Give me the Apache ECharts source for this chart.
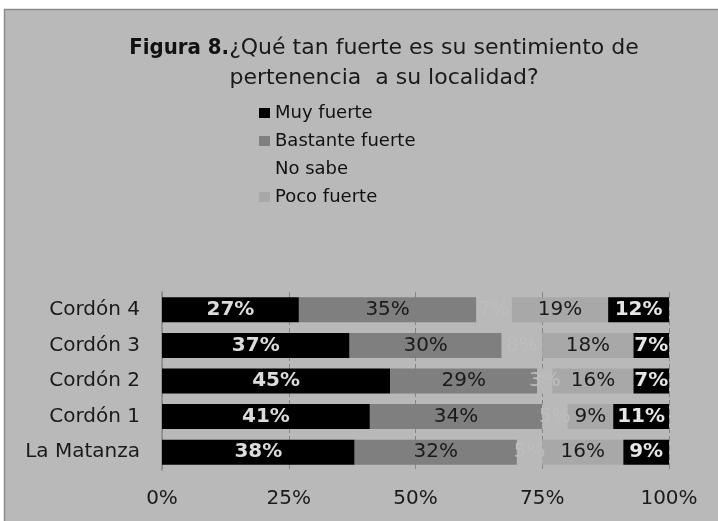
<!DOCTYPE html>
<html>
<head>
<meta charset="utf-8">
<script src="https://cdn.jsdelivr.net/npm/echarts@6/dist/echarts.min.js"></script>
<style>
  html, body { margin: 0; padding: 0; background: #ffffff; }
  #chart { width: 718px; height: 521px; }
</style>
</head>
<body>
<div id="chart"></div>
<script>
// Survey results: strength of sense of belonging, by cordón
const categories = ['Cordón 4', 'Cordón 3', 'Cordón 2', 'Cordón 1', 'La Matanza'];
const muyFuerte      = [27, 37, 45, 41, 38];
const bastanteFuerte = [35, 30, 29, 34, 32];
const noSabe         = [7, 8, 3, 5, 5];
const pocoFuerte     = [19, 18, 16, 9, 16];
const nadaFuerte     = [12, 7, 7, 11, 9];
const tickValues     = [0, 25, 50, 75, 100];

const FONT = 'DejaVu Sans';
const BG = '#b9b9b9';

const chart = echarts.init(document.getElementById('chart'));

function barSeries(name, data, color, labelColor, bold) {
  return {
    name: name,
    type: 'bar',
    stack: 'total',
    data: data,
    barWidth: 25,
    itemStyle: { color: color },
    label: {
      show: true,
      position: 'inside',
      formatter: '{c}%',
      color: labelColor,
      fontFamily: FONT,
      fontSize: 20,
      fontWeight: bold ? 'bold' : 'normal'
    },
    emphasis: { disabled: true }
  };
}

chart.setOption({
  animation: false,
  backgroundColor: '#ffffff',
  graphic: [{
    type: 'rect',
    z: -100,
    shape: { x: 4.5, y: 9.5, width: 720, height: 520 },
    style: { fill: BG, stroke: '#8c8c8c', lineWidth: 1.5 }
  }],
  title: {
    left: 379,
    top: 28,
    textAlign: 'center',
    text: '{b|Figura 8.}{n|¿Qué tan fuerte es su sentimiento de}\n{n|pertenencia  a su localidad?}',
    textStyle: {
      fontWeight: 'normal',
      rich: {
        b: { fontFamily: 'DejaVu Sans Condensed', fontWeight: 'bold', fontSize: 22, color: '#111', lineHeight: 30 },
        n: { fontFamily: FONT, fontWeight: 'normal', fontSize: 22, color: '#1a1a1a', lineHeight: 30 }
      }
    }
  },
  legend: {
    orient: 'vertical',
    left: 254,
    top: 99,
    itemWidth: 11,
    itemHeight: 10,
    itemGap: 10,
    icon: 'rect',
    selectedMode: false,
    data: ['Muy fuerte', 'Bastante fuerte', 'No sabe', 'Poco fuerte'],
    textStyle: { fontFamily: FONT, fontSize: 18, color: '#111', lineHeight: 18 }
  },
  grid: { left: 162, right: 49, top: 292, bottom: 51, containLabel: false },
  xAxis: {
    type: 'value',
    min: 0,
    max: 100,
    interval: 25,
    axisLine: { show: false },
    axisTick: { show: false },
    axisLabel: {
      formatter: function (v) { return tickValues.indexOf(v) >= 0 ? v + '%' : ''; },
      fontFamily: FONT,
      fontSize: 20,
      color: '#1a1a1a',
      margin: 19
    },
    splitLine: { show: true, lineStyle: { color: '#858585', width: 1, type: [6, 3] } }
  },
  yAxis: {
    type: 'category',
    data: categories,
    inverse: true,
    axisLine: { show: true, lineStyle: { color: '#8a8a8a', width: 1.5 } },
    axisTick: { show: false },
    axisLabel: { fontFamily: FONT, fontSize: 20, color: '#1a1a1a', margin: 22 }
  },
  series: [
    barSeries('Muy fuerte', muyFuerte, '#000000', '#dcdcdc', true),
    barSeries('Bastante fuerte', bastanteFuerte, '#7f7f7f', '#1a1a1a', false),
    barSeries('No sabe', noSabe, BG, '#bebebe', false),
    barSeries('Poco fuerte', pocoFuerte, '#a8a8a8', '#1a1a1a', false),
    barSeries('Nada fuerte', nadaFuerte, '#000000', '#e6e6e6', true)
  ]
});
</script>
</body>
</html>
